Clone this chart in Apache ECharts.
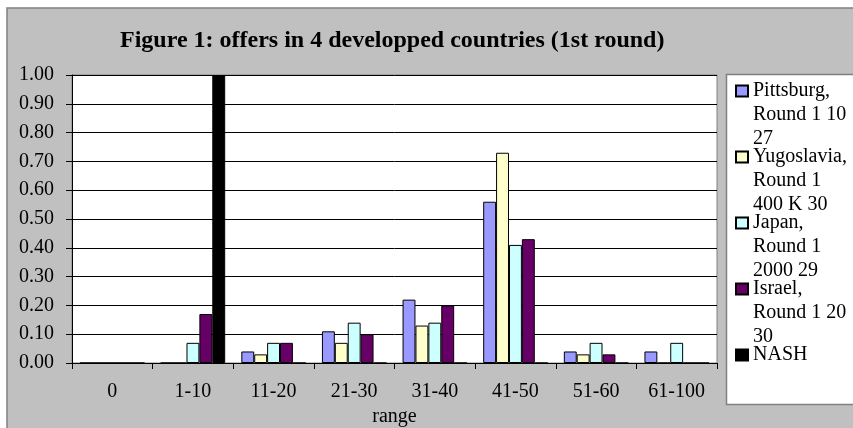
<!DOCTYPE html>
<html>
<head>
<meta charset="utf-8">
<title>Figure 1</title>
<script src="https://cdn.jsdelivr.net/npm/echarts@6/dist/echarts.min.js"></script>
<style>
  html, body { margin: 0; padding: 0; background: #fff; }
  #chart { width: 853px; height: 428px; }
</style>
</head>
<body>
<div id="chart"></div>
<script>
// offer ranges
var categories = ['0', '1-10', '11-20', '21-30', '31-40', '41-50', '51-60', '61-100'];

// share of offers per range
var pittsburg  = [0, 0,    0.04, 0.11, 0.22, 0.56, 0.04, 0.04];
var yugoslavia = [0, 0,    0.03, 0.07, 0.13, 0.73, 0.03, 0];
var japan      = [0, 0.07, 0.07, 0.14, 0.14, 0.41, 0.07, 0.07];
var israel     = [0, 0.17, 0.07, 0.10, 0.20, 0.43, 0.03, 0];
var nash       = [0, 1.00, 0,    0,    0,    0,    0,    0];

var seriesNames = [
    'Pittsburg,\nRound 1 10\n27',
    'Yugoslavia,\nRound 1\n400 K 30',
    'Japan,\nRound 1\n2000 29',
    'Israel,\nRound 1 20\n30',
    'NASH'
];
var seriesData = [pittsburg, yugoslavia, japan, israel, nash];
var colors = ['#9999ff', '#ffffcc', '#ccffff', '#660066', '#000000'];

var font = "'Liberation Serif', 'Times New Roman', serif";

var myChart = echarts.init(document.getElementById('chart'));

var series = seriesNames.map(function (name, i) {
    return {
        name: name,
        type: 'bar',
        data: seriesData[i],
        barGap: '0%',
        barCategoryGap: '20%',
        itemStyle: { color: colors[i], borderColor: '#000', borderWidth: 1 }
    };
});

// legend text is centred on its square: pad every entry to 5 lines
// so that the first real line sits next to the square
function legendText(name) {
    var lines = name.split('\n');
    while (lines.length < 3) lines.push(' ');
    return ' \n \n' + lines.join('\n');
}

var option = {
    backgroundColor: '#fff',
    animation: false,
    color: colors,
    graphic: [
        {
            type: 'rect', z: -10, silent: true,
            shape: { x: 7, y: 8, width: 860, height: 440 },
            style: { fill: '#c0c0c0', stroke: '#808080', lineWidth: 1.5 }
        },
        {
            type: 'rect', z: -9, silent: true,
            shape: { x: 726.5, y: 74.5, width: 140, height: 330 },
            style: { fill: '#fff', stroke: '#808080', lineWidth: 1.5 }
        }
    ],
    title: {
        text: 'Figure 1: offers in 4 developped countries (1st round)',
        left: 120,
        top: 29,
        padding: 0,
        textStyle: { fontFamily: font, fontSize: 24, fontWeight: 'bold', color: '#000' }
    },
    legend: {
        orient: 'vertical',
        left: 735,
        top: 31,
        padding: 0,
        itemGap: -54,
        itemWidth: 12,
        itemHeight: 11,
        icon: 'rect',
        selectedMode: false,
        data: seriesNames,
        formatter: legendText,
        textStyle: { fontFamily: font, fontSize: 20, lineHeight: 24, color: '#000' }
    },
    grid: {
        left: 72,
        top: 75,
        right: 136,
        bottom: 65,
        outerBoundsMode: 'none',
        containLabel: false,
        show: true,
        backgroundColor: '#fff',
        borderColor: '#808080',
        borderWidth: 1
    },
    xAxis: {
        type: 'category',
        data: categories,
        name: 'range',
        nameLocation: 'middle',
        nameGap: 37,
        nameTextStyle: { fontFamily: font, fontSize: 20, color: '#000' },
        axisLine: { lineStyle: { color: '#000', width: 1 } },
        axisTick: { show: true, interval: 0, length: 6, lineStyle: { color: '#000' } },
        axisLabel: { fontFamily: font, fontSize: 20, color: '#000', margin: 19, interval: 0 }
    },
    yAxis: {
        type: 'value',
        min: 0,
        max: 1,
        interval: 0.1,
        axisLine: { show: true, lineStyle: { color: '#000', width: 1 } },
        axisTick: { show: true, length: 6, lineStyle: { color: '#000' } },
        axisLabel: {
            fontFamily: font, fontSize: 20, color: '#000', margin: 18,
            formatter: function (v) { return v.toFixed(2); }
        },
        splitLine: { show: true, lineStyle: { color: '#000', width: 1 } }
    },
    series: series
};

myChart.setOption(option);
</script>
</body>
</html>
